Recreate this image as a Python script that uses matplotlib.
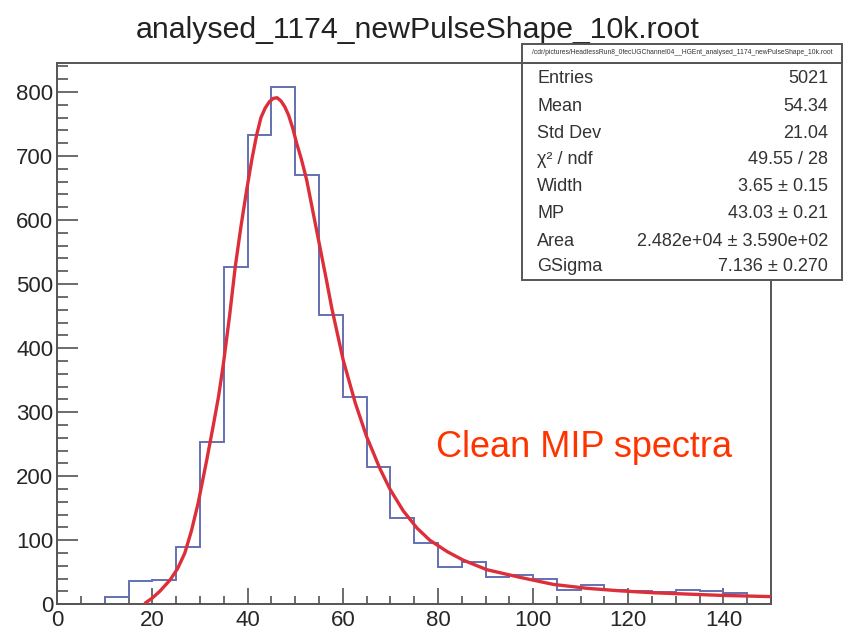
import matplotlib
matplotlib.use("Agg")
import matplotlib.pyplot as plt
from matplotlib.ticker import MultipleLocator
from matplotlib.patches import Rectangle

plt.rcParams['font.family'] = ['Liberation Sans', 'DejaVu Sans']

# ---- data ----
bin_edges = [0, 5, 10, 15, 20, 25, 30, 35, 40, 45, 50, 55, 60, 65, 70, 75,
             80, 85, 90, 95, 100, 105, 110, 115, 120, 125, 130, 135, 140, 145, 150]
counts = [0, 0, 11, 36, 38, 90, 254, 526, 733, 807, 670, 451, 323, 214, 135,
          95, 58, 66, 43, 45, 39, 23, 30, 22, 21, 19, 22, 21, 18, 13]

fit_x = [18.5, 20.0, 21.5, 23.7, 25.3, 26.8, 28.2, 29.6, 31.4, 32.8, 33.9, 34.9,
         36.2, 37.4, 38.6, 39.8, 40.9, 41.9, 42.8, 43.7, 44.6, 45.4, 46.2, 47.0,
         47.8, 48.6, 49.5, 50.3, 51.3, 52.4, 54.5, 56.6, 57.7, 60.1, 62.6, 65.0,
         67.8, 69.9, 72.7, 75.6, 78.3, 82.0, 85.3, 90.3, 97.3, 104.3, 111.3,
         118.3, 125.3, 132.3, 139.3, 150.0]
fit_y = [2, 10, 20, 38, 56, 80, 115, 158, 225, 280, 325, 375,
         450, 527, 590, 647, 695, 733, 760, 775, 785, 790, 791, 786,
         777, 764, 743, 720, 695, 663, 584, 505, 462, 381, 315, 262,
         212, 180, 146, 119, 100, 82, 69, 54, 42, 31, 25,
         21, 18, 16, 14, 12]

title = "analysed_1174_newPulseShape_10k.root"
stats_header = "/cdr/pictures/HeadlessRun8_0fecUGChannel04__HGEnt_analysed_1174_newPulseShape_10k.root"
stats_labels = ["Entries", "Mean", "Std Dev", "χ² / ndf", "Width", "MP", "Area", "GSigma"]
stats_values = ["5021", "54.34", "21.04", "49.55 / 28", "3.65 ± 0.15", "43.03 ± 0.21",
                "2.482e+04 ± 3.590e+02", "7.136 ± 0.270"]
annotation = "Clean MIP spectra"

# ---- figure ----
W, H = 844, 630
fig = plt.figure(figsize=(W / 100, H / 100), dpi=100)
fig.patch.set_facecolor('white')

left, right, bottom, top = 57.3, 771.0, 604.3, 62.5
ax = fig.add_axes([left / W, 1 - bottom / H, (right - left) / W, (bottom - top) / H])

ax.stairs(counts, bin_edges, color='#6470b4', linewidth=1.4, zorder=2)
ax.plot(fit_x, fit_y, color='#dc2f3a', linewidth=2.4, solid_joinstyle='round',
        solid_capstyle='round', zorder=3)

ax.set_xlim(0, 150)
ax.set_ylim(0, 846)

ax.xaxis.set_major_locator(MultipleLocator(20))
ax.xaxis.set_minor_locator(MultipleLocator(5))
ax.yaxis.set_major_locator(MultipleLocator(100))
ax.yaxis.set_minor_locator(MultipleLocator(20))

ax.tick_params(axis='x', which='major', direction='in', length=11.5, width=1.1,
               color='#444444', labelsize=16, labelcolor='#262626', pad=4)
ax.tick_params(axis='x', which='minor', direction='in', length=5.8, width=1.1, color='#444444')
ax.tick_params(axis='y', which='major', direction='in', length=15.4, width=1.1,
               color='#444444', labelsize=16, labelcolor='#262626', pad=3)
ax.tick_params(axis='y', which='minor', direction='in', length=7.7, width=1.1, color='#444444')

for s in ax.spines.values():
    s.set_color('#555555')
    s.set_linewidth(1.4)

ax.text(110.7, 230, annotation, color='#ff3300', fontsize=26,
        ha='center', va='baseline', zorder=5)

# title
fig.text(418 / W, 1 - 38 / H, title, fontsize=21.8, color='#222222',
         ha='center', va='baseline')

# stats box
bx0, bx1 = 521.7, 842.0
by_top, by_bot, bh_top = 62.7, 280.0, 44.0
fig.patches.append(Rectangle((bx0 / W, 1 - by_bot / H), (bx1 - bx0) / W, (by_bot - by_top) / H,
                             transform=fig.transFigure, facecolor='white',
                             edgecolor='#555555', linewidth=1.4, zorder=10))
fig.patches.append(Rectangle((bx0 / W, 1 - by_top / H), (bx1 - bx0) / W, (by_top - bh_top) / H,
                             transform=fig.transFigure, facecolor='white',
                             edgecolor='#555555', linewidth=1.4, zorder=10))
fig.text((bx0 + bx1) / 2 / W, 1 - 52.5 / H, stats_header, fontsize=4.9, color='#333333',
         ha='center', va='center', zorder=11)

row_y = [78.3, 106.7, 133.3, 160.0, 186.7, 213.3, 241.7, 266.7]
for lab, val, yy in zip(stats_labels, stats_values, row_y):
    fig.text(537.3 / W, 1 - yy / H, lab, fontsize=13, color='#333333',
             ha='left', va='center', zorder=11)
    fig.text(828 / W, 1 - yy / H, val, fontsize=13, color='#333333',
             ha='right', va='center', zorder=11)

fig.savefig('out.png', dpi=100, facecolor='white')
